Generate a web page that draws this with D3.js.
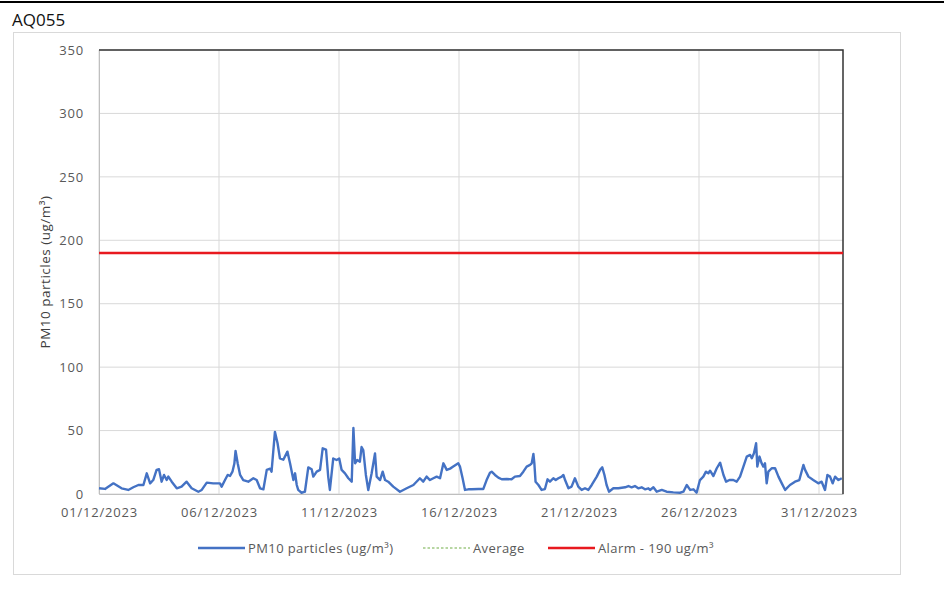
<!DOCTYPE html>
<html>
<head>
<meta charset="utf-8">
<script src="https://cdn.jsdelivr.net/npm/d3@7"></script>
<style>
  body { margin: 0; background: #fff; }
  text { font-family: "Open Sans", sans-serif; }
</style>
</head>
<body>
<div id="chart"></div>
<script>
// days since 01/12/2023 00:00 and the PM10 reading there
var dayOffset = [
  0, 0.25, 0.6, 0.94, 1.22, 1.43, 1.64, 1.85, 1.99, 2.13, 2.26, 2.4, 2.5, 2.61, 2.71, 2.82, 2.89,
  3.03, 3.24, 3.44, 3.65, 3.86, 4.14, 4.28, 4.49, 4.76, 5.04, 5.11, 5.25, 5.36, 5.46, 5.56, 5.64,
  5.69, 5.78, 5.88, 6.01, 6.22, 6.43, 6.57, 6.71, 6.85, 6.99, 7.13, 7.19, 7.33, 7.44, 7.54, 7.68,
  7.85, 7.96, 8.1, 8.17, 8.24, 8.3, 8.44, 8.58, 8.72, 8.86, 8.93, 9.07, 9.21, 9.32, 9.46, 9.55,
  9.62, 9.76, 9.9, 10.01, 10.11, 10.25, 10.39, 10.53, 10.6, 10.67, 10.76, 10.87, 10.94, 11.01,
  11.12, 11.22, 11.36, 11.5, 11.57, 11.71, 11.82, 11.92, 12.05, 12.26, 12.54, 12.82, 13.1, 13.37,
  13.51, 13.65, 13.79, 13.93, 14.07, 14.21, 14.35, 14.42, 14.49, 14.63, 14.76, 14.97, 15.04, 15.15,
  15.25, 15.39, 15.53, 15.81, 16.01, 16.15, 16.29, 16.36, 16.5, 16.64, 16.78, 16.99, 17.19, 17.33,
  17.54, 17.68, 17.82, 17.96, 18.03, 18.1, 18.14, 18.19, 18.31, 18.44, 18.58, 18.69, 18.79, 18.93,
  19.03, 19.14, 19.28, 19.35, 19.42, 19.56, 19.69, 19.83, 19.97, 20.11, 20.25, 20.39, 20.53, 20.74,
  20.88, 20.97, 21.06, 21.15, 21.25, 21.43, 21.64, 21.92, 22.06, 22.19, 22.33, 22.47, 22.61, 22.75,
  22.89, 22.96, 23.1, 23.24, 23.45, 23.65, 23.93, 24.21, 24.35, 24.49, 24.63, 24.77, 24.9, 25.04,
  25.18, 25.29, 25.39, 25.46, 25.6, 25.74, 25.88, 26.02, 26.13, 26.27, 26.43, 26.57, 26.71, 26.85,
  26.99, 27.13, 27.2, 27.29, 27.38, 27.43, 27.52, 27.61, 27.68, 27.75, 27.82, 27.89, 28.03, 28.17,
  28.31, 28.45, 28.59, 28.79, 29, 29.18, 29.35, 29.42, 29.56, 29.76, 29.97, 30.11, 30.25, 30.35,
  30.46, 30.57, 30.67, 30.81, 30.95
];
var pm10 = [
  4.5, 4, 8.4, 4.5, 3.2, 5.3, 7.1, 7.1, 16.3, 8.4, 11, 19, 19.5, 9.7, 15, 11, 13.7,
  9.7, 4.5, 5.8, 9.7, 4.5, 1.8, 3.2, 9, 8.4, 8.4, 5.8, 11, 15, 14.2, 17.6, 24,
  34, 24, 15, 11, 9.7, 12.4, 11, 4.5, 3.7, 19, 20, 17.6, 49, 40, 28, 27,
  33.4, 24.2, 11, 16.3, 7.1, 3.2, 1, 1.8, 21, 19.5, 13.7, 17.6, 19, 36, 35, 13.7,
  3.2, 28, 26.8, 28, 19, 16.3, 12.4, 9.7, 52, 24.2, 26.8, 25.5, 37, 34.7,
  15, 3.2, 16.3, 32, 13.7, 11, 17.6, 11, 9.7, 5.8, 1.8, 4.5, 7.1, 12.4,
  9.7, 13.7, 11, 12.4, 13.7, 12.4, 24.2, 21.6, 19, 20, 21.6, 24.2, 21.6, 12.4,
  3.2, 3.7, 3.7, 3.9, 3.9, 11, 16.8, 17.6, 15, 12.9, 11.6, 11.8, 11.6, 13.7,
  14.2, 17.6, 21.6, 22.9, 24.2, 31.6, 24.2, 9.7, 7.1, 3.2, 3.9, 11.6, 9.7, 12.4,
  11, 12.4, 13.7, 15, 11, 4.5, 5.8, 12.4, 5.8, 3.2, 4.5, 3.2, 7.1, 13.7,
  19, 21, 15, 7.1, 1.8, 4.5, 4.5, 5.3, 6.3, 5.3, 6.3, 4.5, 5.3, 3.7,
  4.5, 3.2, 5.3, 1.8, 3.2, 1.8, 1.3, 1, 1.8, 7.1, 3.2, 3.7, 1, 11,
  13.7, 17.6, 16.3, 18.4, 14.2, 20.3, 24.7, 15, 9.7, 11, 11, 9.7, 13.7, 21.6,
  29.5, 30.8, 28.2, 32.1, 40, 21.6, 29.5, 24.2, 21.6, 24.2, 8.4, 17.6, 20.3, 20.3,
  13.7, 8.4, 3.2, 7.1, 9.7, 11, 22.9, 19, 13.7, 11, 8.4, 9.7, 3.2, 15,
  13.7, 8.4, 13.7, 11, 12.4
];
var alarmLevel = 190;
var yTicks = [0, 50, 100, 150, 200, 250, 300, 350];
var xTickLabels = ["01/12/2023", "06/12/2023", "11/12/2023", "16/12/2023", "21/12/2023", "26/12/2023", "31/12/2023"];
var legendLabels = ["PM10 particles (ug/m\u00b3)", "Average", "Alarm - 190 ug/m\u00b3"];

var W = 944, H = 616;
var margin = {top: 50, left: 99},
    width = 744,
    height = 444;

var svg = d3.select('#chart')
  .append('svg')
    .attr('width', W)
    .attr('height', H);

// page header
svg.append('line')
    .attr('x1', 0).attr('x2', W).attr('y1', 2).attr('y2', 2)
    .attr('stroke', '#000').attr('stroke-width', 2);
svg.append('text')
    .attr('x', 12).attr('y', 26)
    .attr('font-size', 17).attr('fill', '#111')
    .text('AQ055');

// chart frame
svg.append('rect')
    .attr('x', 13.5).attr('y', 32.5).attr('width', 887).attr('height', 542)
    .attr('fill', '#fff').attr('stroke', '#d9d9d9');

var g = svg.append('g')
    .attr('transform', 'translate(' + margin.left + ',' + margin.top + ')');

var parseLabel = d3.utcParse('%d/%m/%Y');
var start = Date.UTC(2023, 11, 1);
var x = d3.scaleUtc()
    .domain([new Date(start), new Date(Date.UTC(2024, 0, 1))])
    .range([0, width]);
var y = d3.scaleLinear()
    .domain([0, 350])
    .range([height, 0]);

var xTickDates = xTickLabels.map(function(s) { return parseLabel(s); });

// grid
g.append('g').selectAll('line').data(yTicks).join('line')
    .attr('x1', 0).attr('x2', width)
    .attr('y1', d => y(d)).attr('y2', d => y(d))
    .attr('stroke', '#d9d9d9').attr('stroke-width', 1);
g.append('g').selectAll('line').data(xTickDates).join('line')
    .attr('x1', d => x(d)).attr('x2', d => x(d))
    .attr('y1', 0).attr('y2', height)
    .attr('stroke', '#d9d9d9').attr('stroke-width', 1);

// axes
var yAxis = g.append('g')
    .call(d3.axisLeft(y).tickValues(yTicks).tickSize(0).tickPadding(15));
var xAxis = g.append('g')
    .attr('transform', 'translate(0,' + height + ')')
    .call(d3.axisBottom(x).tickValues(xTickDates).tickSize(0).tickPadding(14)
        .tickFormat((d, i) => xTickLabels[i]));
[yAxis, xAxis].forEach(function(a) {
    a.select('.domain').attr('stroke', '#bfbfbf');
    a.selectAll('text')
        .attr('font-family', '"Open Sans", sans-serif')
        .attr('font-size', 13)
        .attr('letter-spacing', 0.8)
        .attr('fill', '#595959');
});

// dark top/right frame of the plot
g.append('path')
    .attr('d', 'M0,0H' + width + 'V' + height)
    .attr('fill', 'none').attr('stroke', '#333').attr('stroke-width', 1.5);

// y title
svg.append('text')
    .attr('transform', 'translate(50,' + (margin.top + height / 2) + ') rotate(-90)')
    .attr('text-anchor', 'middle')
    .attr('font-size', 13.5).attr('letter-spacing', 0.5).attr('fill', '#404040')
    .text('PM10 particles (ug/m\u00b3)');

// series
var series = dayOffset.map(function(d, i) {
    return {date: new Date(start + d * 86400000), value: pm10[i]};
});

g.append('line')
    .attr('x1', 0).attr('x2', width)
    .attr('y1', y(alarmLevel)).attr('y2', y(alarmLevel))
    .attr('stroke', '#e8191f').attr('stroke-width', 2.5);

g.append('path')
    .datum(series)
    .attr('fill', 'none')
    .attr('stroke', '#4472c4')
    .attr('stroke-width', 2.4)
    .attr('stroke-linejoin', 'round')
    .attr('d', d3.line()
        .x(d => x(d.date))
        .y(d => y(d.value)));

// legend
var legend = [
    {label: legendLabels[0], x: 198, color: '#4472c4', dash: null, w: 2.4},
    {label: legendLabels[1], x: 423, color: '#70ad47', dash: '2.5,2', w: 1.2},
    {label: legendLabels[2], x: 548, color: '#e8191f', dash: null, w: 2.5}
];
var lg = svg.append('g').attr('transform', 'translate(0,548)');
legend.forEach(function(l) {
    lg.append('line')
        .attr('x1', l.x).attr('x2', l.x + 47)
        .attr('stroke', l.color).attr('stroke-width', l.w)
        .attr('stroke-dasharray', l.dash);
    lg.append('text')
        .attr('x', l.x + 50).attr('y', 4.5)
        .attr('font-size', 13).attr('letter-spacing', 0.4).attr('fill', '#595959')
        .text(l.label);
});
</script>
</body>
</html>
